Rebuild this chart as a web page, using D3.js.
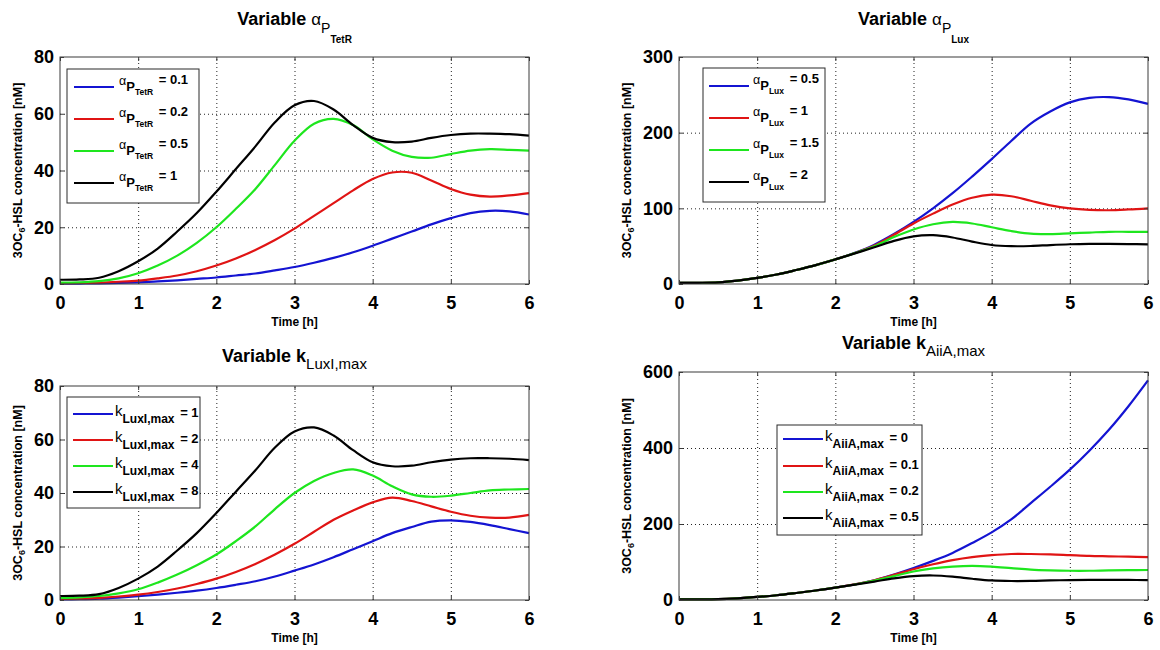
<!DOCTYPE html>
<html>
<head>
<meta charset="utf-8">
<script src="https://cdn.jsdelivr.net/npm/d3@7/dist/d3.min.js"></script>
<style>
  html, body { margin: 0; padding: 0; background: #fff; }
  svg { display: block; font-family: "Liberation Sans", Arial, sans-serif; }
</style>
</head>
<body>
<svg id="chart" width="1160" height="650"></svg>
<script>
// ---------------- DATA ----------------
const timeH = [0,0.25,0.5,0.75,1,1.25,1.5,1.75,2,2.25,2.5,2.75,3,3.25,3.5,3.75,4,4.25,4.5,4.75,5,5.25,5.5,5.75,6];
const xTicks = [0,1,2,3,4,5,6];

// Panel 1: variable alpha_P_TetR
const aTetR_01 = [0.1,0.15,0.25,0.4,0.6,0.9,1.3,1.8,2.3,3,3.7,4.8,6,7.5,9.2,11.2,13.5,16,18.5,21,23.2,25,25.8,25.6,24.5];
const aTetR_02 = [0.3,0.35,0.5,0.8,1.2,2,3,4.5,6.5,9,12,15.5,19.5,24,28.5,33,37,39.3,39.2,36.5,33.5,31.5,30.8,31.2,32];
const aTetR_05 = [0.5,0.6,1,2,3.8,6.5,10,14.5,20,26.5,33.5,42,50.5,56.5,58.2,56,51,47,44.8,44.5,45.8,47,47.5,47.3,47];
const aTetR_1  = [1.5,1.6,2.2,4.5,8,12.5,18.5,25,32.5,40.5,48.5,57,63,64.5,61.5,56,51.5,50,50.2,51.5,52.5,53,53,52.8,52.3];
const aTetRLabels = ["0.1","0.2","0.5","1"];
const yTicks1 = [0,20,40,60,80];

// Panel 2: variable alpha_P_Lux
const aLux_05 = [1.5,1.6,2.2,4.5,8,12.5,18.5,25,32.5,41.2,52,66,82,100,120,142,165,189,212,228,240,246,247,244,238];
const aLux_1  = [1.5,1.6,2.2,4.5,8,12.5,18.5,25,32.5,41,51,65,80,93,105,114,118,116,110,104,100,98,97.5,98.5,100];
const aLux_15 = [1.5,1.6,2.2,4.5,8,12.5,18.5,25,32.5,40.8,50,62,72,79,82,80,75,70,66.5,66,67,68,69,69,69];
const aLux_2  = [1.5,1.6,2.2,4.5,8,12.5,18.5,25,32.5,40.5,48.5,57,63,64.5,61.5,56,51.5,50,50.2,51.5,52.5,53,53,52.8,52.3];
const aLuxLabels = ["0.5","1","1.5","2"];
const yTicks2 = [0,100,200,300];

// Panel 3: variable k_LuxI,max
const kLuxI_1 = [0.2,0.3,0.5,0.9,1.4,2,2.7,3.5,4.5,5.7,7,8.8,11,13.3,16,19,22,25,27.3,29.3,29.8,29.2,28,26.5,25];
const kLuxI_2 = [0.4,0.5,0.8,1.3,2,3,4.3,6,8,10.5,13.5,17,21,25.5,30,33.5,36.5,38.3,37,35,33,31.5,30.8,30.8,31.8];
const kLuxI_4 = [0.8,1,1.5,2.5,4,6.5,9.5,13,17,22,27.5,34,40,44.5,47.5,48.8,46.5,42.5,39.5,38.6,39,40,41,41.3,41.5];
const kLuxI_8 = [1.5,1.6,2.2,4.5,8,12.5,18.5,25,32.5,40.5,48.5,57,63,64.5,61.5,56,51.5,50,50.2,51.5,52.5,53,53,52.8,52.3];
const kLuxILabels = ["1","2","4","8"];
const yTicks3 = [0,20,40,60,80];

// Panel 4: variable k_AiiA,max
const kAiiA_0   = [1.5,1.6,2.2,4.5,8,12.5,18.5,25,32.5,41.2,52,67,84,103,124,150,178,212,255,298,343,393,448,510,578];
const kAiiA_01  = [1.5,1.6,2.2,4.5,8,12.5,18.5,25,32.5,41,52,66,81,94,105,113,118,121,121,120,118,116,115,114,113];
const kAiiA_02  = [1.5,1.6,2.2,4.5,8,12.5,18.5,25,32.5,40.8,51,63,75,83,88,90,88,84,80,78,77,77,78,78.5,79];
const kAiiA_05  = [1.5,1.6,2.2,4.5,8,12.5,18.5,25,32.5,40.5,48.5,57,63,64.5,61.5,56,51.5,50,50.2,51.5,52.5,53,53,52.8,52.3];
const kAiiALabels = ["0","0.1","0.2","0.5"];
const yTicks4 = [0,200,400,600];

const seriesColors = ["#1414d2", "#e01414", "#1ee61e", "#000000"];

// ---------------- DRAWING ----------------
const svg = d3.select("#chart");

function rich(g, x, y, parts, anchor) {
  const t = g.append("text").attr("x", x).attr("y", y)
    .attr("text-anchor", anchor || "start").attr("fill", "#000");
  let cur = 0;
  parts.forEach(p => {
    const ts = t.append("tspan").text(p.t)
      .attr("font-size", p.s).attr("font-weight", p.w || "bold");
    const o = p.o || 0;
    if (o !== cur) ts.attr("dy", o - cur);
    cur = o;
    if (p.dx) ts.attr("dx", p.dx);
  });
  return t;
}

const panels = [
  { box: {l: 60, r: 529, t: 57, b: 284}, yMax: 80, yTicks: yTicks1, ylabX: 22,
    series: [aTetR_01, aTetR_02, aTetR_05, aTetR_1], labels: aTetRLabels,
    title: { y: 25, parts: [{t: "Variable ", s: 18}, {t: "α", s: 17, w: "normal"}, {t: "P", s: 14, w: "normal", o: 8}, {t: "TetR", s: 10, o: 18}] },
    legend: { x0: 67, y0: 69, x1: 199, y1: 203, lx0: 74, lx1: 114, tx: 119, rows: [87, 119, 151, 183], kind: "alpha", sub: "TetR" },
    xlabY: 322 },
  { box: {l: 679, r: 1148, t: 57, b: 284}, yMax: 300, yTicks: yTicks2, ylabX: 631,
    series: [aLux_05, aLux_1, aLux_15, aLux_2], labels: aLuxLabels,
    title: { y: 25, parts: [{t: "Variable ", s: 18}, {t: "α", s: 17, w: "normal"}, {t: "P", s: 14, w: "normal", o: 8}, {t: "Lux", s: 10, o: 18}] },
    legend: { x0: 703, y0: 68, x1: 825, y1: 202, lx0: 709, lx1: 749, tx: 753, rows: [86, 118, 150, 182], kind: "alpha", sub: "Lux" },
    xlabY: 322 },
  { box: {l: 60, r: 529, t: 386, b: 600}, yMax: 80, yTicks: yTicks3, ylabX: 22,
    series: [kLuxI_1, kLuxI_2, kLuxI_4, kLuxI_8], labels: kLuxILabels,
    title: { y: 362, parts: [{t: "Variable k", s: 18}, {t: "LuxI,max", s: 15, w: "normal", o: 7}] },
    legend: { x0: 67, y0: 397, x1: 200, y1: 508, lx0: 73, lx1: 113, tx: 115, rows: [414, 440, 466, 492], kind: "k", sub: "LuxI,max" },
    xlabY: 638 },
  { box: {l: 679, r: 1148, t: 372, b: 600}, yMax: 600, yTicks: yTicks4, ylabX: 631,
    series: [kAiiA_0, kAiiA_01, kAiiA_02, kAiiA_05], labels: kAiiALabels,
    title: { y: 349, parts: [{t: "Variable k", s: 18}, {t: "AiiA,max", s: 15, w: "normal", o: 7}] },
    legend: { x0: 777, y0: 425, x1: 922, y1: 535, lx0: 783, lx1: 823, tx: 825, rows: [439, 466, 492, 518], kind: "k", sub: "AiiA,max" },
    xlabY: 638 }
];

panels.forEach(p => {
  const B = p.box;
  const x = d3.scaleLinear().domain([0, 6]).range([B.l, B.r]);
  const y = d3.scaleLinear().domain([0, p.yMax]).range([B.b, B.t]);
  const g = svg.append("g");

  g.append("rect").attr("x", B.l).attr("y", B.t).attr("width", B.r - B.l).attr("height", B.b - B.t).attr("fill", "#fff");

  // grid
  const gx = g.append("g").attr("transform", `translate(0,${B.b})`)
    .call(d3.axisBottom(x).tickValues(xTicks.slice(1, -1)).tickSize(-(B.b - B.t)).tickFormat(""));
  const gy = g.append("g").attr("transform", `translate(${B.l},0)`)
    .call(d3.axisLeft(y).tickValues(p.yTicks.slice(1, -1)).tickSize(-(B.r - B.l)).tickFormat(""));
  [gx, gy].forEach(a => {
    a.select(".domain").remove();
    a.selectAll("line").attr("stroke", "#222").attr("stroke-width", 1).attr("stroke-dasharray", "1,3");
  });

  // lines
  const line = d3.line().x((d, i) => x(timeH[i])).y(d => y(d)).curve(d3.curveCatmullRom.alpha(0.5));
  p.series.forEach((s, i) => {
    g.append("path").datum(s).attr("d", line).attr("fill", "none")
      .attr("stroke", seriesColors[i]).attr("stroke-width", 2.2)
      .attr("stroke-linejoin", "round");
  });

  // frame
  g.append("rect").attr("x", B.l).attr("y", B.t).attr("width", B.r - B.l).attr("height", B.b - B.t)
    .attr("fill", "none").attr("stroke", "#3a3a3a").attr("stroke-width", 1);

  // axes (inward ticks)
  const ax = g.append("g").attr("transform", `translate(0,${B.b})`)
    .call(d3.axisBottom(x).tickValues(xTicks).tickSize(-4).tickPadding(12).tickFormat(d3.format("d")));
  const ay = g.append("g").attr("transform", `translate(${B.l},0)`)
    .call(d3.axisLeft(y).tickValues(p.yTicks).tickSize(-4).tickPadding(6).tickFormat(d3.format("d")));
  const axT = g.append("g").attr("transform", `translate(0,${B.t})`)
    .call(d3.axisTop(x).tickValues(xTicks).tickSize(-4).tickFormat(""));
  const ayR = g.append("g").attr("transform", `translate(${B.r},0)`)
    .call(d3.axisRight(y).tickValues(p.yTicks).tickSize(-4).tickFormat(""));
  [ax, ay, axT, ayR].forEach(a => {
    a.select(".domain").remove();
    a.selectAll("line").attr("stroke", "#3a3a3a");
    a.selectAll("text").attr("font-size", 18).attr("font-weight", "bold").attr("fill", "#000")
      .attr("font-family", "'Liberation Sans', Arial, sans-serif");
  });

  // x label
  g.append("text").attr("x", (B.l + B.r) / 2).attr("y", p.xlabY + 4).attr("text-anchor", "middle")
    .attr("font-size", 12).attr("font-weight", "bold").text("Time [h]");

  // y label
  const cy = (B.t + B.b) / 2;
  const yl = g.append("g").attr("transform", `translate(${p.ylabX},${cy}) rotate(-90)`);
  rich(yl, 0, 0, [{t: "3OC", s: 12.5}, {t: "6", s: 9, o: 3}, {t: "-HSL concentration [nM]", s: 12.5, o: 0}], "middle");

  // title
  rich(g, (B.l + B.r) / 2, p.title.y, p.title.parts, "middle");

  // legend
  const L = p.legend;
  g.append("rect").attr("x", L.x0).attr("y", L.y0).attr("width", L.x1 - L.x0).attr("height", L.y1 - L.y0)
    .attr("fill", "#fff").attr("stroke", "#2a2a2a").attr("stroke-width", 1);
  p.labels.forEach((lab, i) => {
    const ry = L.rows[i];
    g.append("line").attr("x1", L.lx0).attr("x2", L.lx1).attr("y1", ry).attr("y2", ry)
      .attr("stroke", seriesColors[i]).attr("stroke-width", 2);
    if (L.kind === "alpha") {
      rich(g, L.tx, ry - 2, [
        {t: "α", s: 12.5, w: "normal"},
        {t: "P", s: 13, o: 6},
        {t: L.sub, s: 8.5, o: 10},
        {t: " = " + lab, s: 13, o: -1, dx: 2}
      ]);
    } else {
      rich(g, L.tx, ry + 2, [
        {t: "k", s: 15, w: "normal"},
        {t: L.sub, s: 12, o: 7},
        {t: " = " + lab, s: 13, o: 1, dx: 2}
      ]);
    }
  });
});
</script>
</body>
</html>
